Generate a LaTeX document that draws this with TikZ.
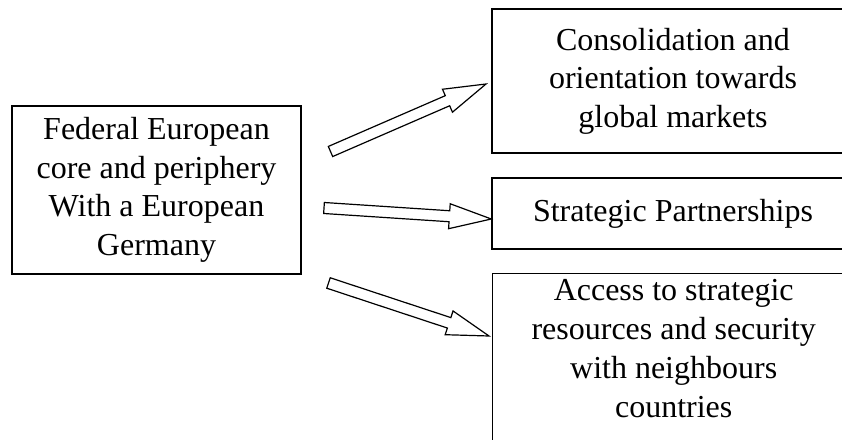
\documentclass[tikz,border=0pt]{standalone}
\usepackage{fontspec}
\setmainfont{Liberation Serif}
\usetikzlibrary{calc}
\begin{document}
\begin{tikzpicture}[x=1pt,y=1pt,
  box/.style={draw, line width=1.4pt, rectangle, inner sep=0pt, align=center,
    font=\fontsize{32}{38.5}\selectfont},
  boxtext/.style={inner sep=0pt, align=center, font=\fontsize{32}{39}\selectfont},
  barrow/.style={draw, fill=white, line width=1.2pt, line join=miter}]
\clip (0,0) rectangle (842,439);
% boxes
\node[box, minimum width=289pt, minimum height=168pt] (core) at (156.5,249)
  {Federal European\\core and periphery\\With a European\\Germany};
\node[box, minimum width=362pt, minimum height=144pt] (glob) at (673,358)
  {Consolidation and\\orientation towards\\global markets};
\node[box, minimum width=362pt, minimum height=71pt] (part) at (673,225.5)
  {Strategic Partnerships};
\node[box, minimum width=362pt, minimum height=200pt, anchor=north west] (res) at (492,166) {};
\node[boxtext, anchor=north] (restext) at ($(res.north)+(0,-6)$)
  {Access to strategic\\resources and security\\with neighbours\\countries};
% arrow end points
\coordinate (t1) at (330.5,287.5); \coordinate (h1) at (486,355);
\coordinate (t2) at (324,231);     \coordinate (h2) at (part.west |- 0,220);
\coordinate (t3) at (328.5,156);   \coordinate (h3) at (489,103);
\foreach \i in {1,2,3} {
  \coordinate (s\i) at ($(h\i)!42pt!(t\i)$);
  \draw[barrow] ($(t\i)!5.5pt!90:(h\i)$) -- ($(s\i)!5.5pt!90:(h\i)$)
    -- ($(s\i)!12.5pt!90:(h\i)$) -- (h\i) -- ($(s\i)!12.5pt!-90:(h\i)$)
    -- ($(s\i)!5.5pt!-90:(h\i)$) -- ($(t\i)!5.5pt!-90:(h\i)$) -- cycle;
}
\end{tikzpicture}
\end{document}
